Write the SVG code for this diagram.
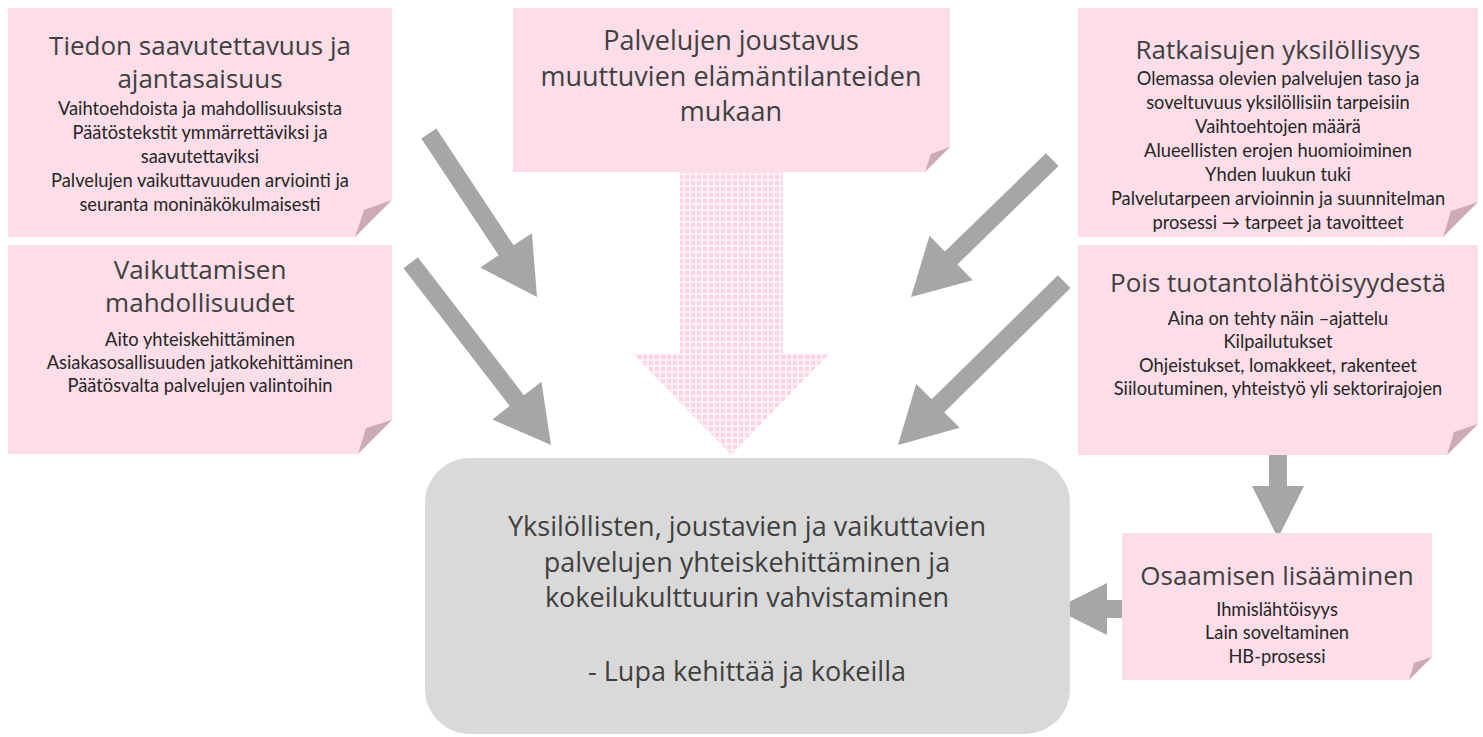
<svg xmlns="http://www.w3.org/2000/svg" width="1483" height="737" viewBox="0 0 1483 737">
<defs>
<pattern id="dots" width="6" height="6" patternUnits="userSpaceOnUse">
<rect width="6" height="6" fill="#fff2f7"/>
<rect x="1" y="1" width="4" height="4" fill="#fbd3e2"/>
</pattern>
</defs>
<style>
.note{fill:#fcdde8}
.fold{fill:#cbabb8}
.title{font-family:"Open Sans","DejaVu Sans",sans-serif;font-size:26px;fill:#404040;text-anchor:middle}
.ctext{font-family:"Open Sans","DejaVu Sans",sans-serif;font-size:27px;fill:#404040;text-anchor:middle}
.body{font-family:Lato,"Liberation Sans",sans-serif;font-size:18.3px;fill:#262626;text-anchor:middle}
.arrow{fill:#a6a6a6}
.center{fill:#d9d9d9}
</style>
<rect width="1483" height="737" fill="#ffffff"/>

<g id="connectors">
<polygon points="680,172 783,172 783,353 830,353 731,455 632,353 680,353" fill="url(#dots)"/>
<path class="arrow" transform="translate(537,297) rotate(56.5)" d="M0,0 L-56,-31 L-56,-9 L-196,-9 L-196,9 L-56,9 L-56,31 Z"/>
<path class="arrow" transform="translate(551,445) rotate(52.4)" d="M0,0 L-56,-31 L-56,-9 L-230,-9 L-230,9 L-56,9 L-56,31 Z"/>
<path class="arrow" transform="translate(911,297) rotate(135.8)" d="M0,0 L-56,-31 L-56,-9 L-197,-9 L-197,9 L-56,9 L-56,31 Z"/>
<path class="arrow" transform="translate(898,445) rotate(135.5)" d="M0,0 L-56,-31 L-56,-9 L-233,-9 L-233,9 L-56,9 L-56,31 Z"/>
<path class="arrow" transform="translate(1278,538) rotate(90)" d="M0,0 L-52,-26 L-52,-9 L-83,-9 L-83,9 L-52,9 L-52,26 Z"/>
<path class="arrow" transform="translate(1055,609) rotate(180)" d="M0,0 L-52,-26 L-52,-9 L-67,-9 L-67,9 L-52,9 L-52,26 Z"/>
</g>

<g id="note-tiedon">
<path class="note" d="M8,8 H392 V200 L355,237 H8 Z"/>
<polygon class="fold" points="392,200 364,210 355,237"/>
<text class="title" x="200" y="55">Tiedon saavutettavuus ja</text>
<text class="title" x="200" y="88">ajantasaisuus</text>
<text class="body" x="200" y="115">Vaihtoehdoista ja mahdollisuuksista</text>
<text class="body" x="200" y="139">Päätöstekstit ymmärrettäviksi ja</text>
<text class="body" x="200" y="163">saavutettaviksi</text>
<text class="body" x="200" y="187">Palvelujen vaikuttavuuden arviointi ja</text>
<text class="body" x="200" y="211">seuranta moninäkökulmaisesti</text>
</g>

<g id="note-joustavuus">
<path class="note" d="M513,8 H950 V147 L925,172 H513 Z"/>
<polygon class="fold" points="950,147 931,154 925,172"/>
<text class="ctext" x="731" y="50">Palvelujen joustavus</text>
<text class="ctext" x="731" y="86">muuttuvien elämäntilanteiden</text>
<text class="ctext" x="731" y="121">mukaan</text>
</g>

<g id="note-ratkaisujen">
<path class="note" d="M1078,8 H1478 V202 L1443,237 H1078 Z"/>
<polygon class="fold" points="1478,202 1451,211 1443,237"/>
<text class="title" x="1278" y="59">Ratkaisujen yksilöllisyys</text>
<text class="body" x="1278" y="85">Olemassa olevien palvelujen taso ja</text>
<text class="body" x="1278" y="109">soveltuvuus yksilöllisiin tarpeisiin</text>
<text class="body" x="1278" y="133">Vaihtoehtojen määrä</text>
<text class="body" x="1278" y="157">Alueellisten erojen huomioiminen</text>
<text class="body" x="1278" y="181">Yhden luukun tuki</text>
<text class="body" x="1278" y="205">Palvelutarpeen arvioinnin ja suunnitelman</text>
<text class="body" x="1278" y="229">prosessi → tarpeet ja tavoitteet</text>
</g>

<g id="note-vaikuttamisen">
<path class="note" d="M8,245 H392 V420 L358,454 H8 Z"/>
<polygon class="fold" points="392,420 366,428 358,454"/>
<text class="title" x="200" y="279">Vaikuttamisen</text>
<text class="title" x="200" y="312">mahdollisuudet</text>
<text class="body" x="200" y="346">Aito yhteiskehittäminen</text>
<text class="body" x="200" y="369">Asiakasosallisuuden jatkokehittäminen</text>
<text class="body" x="200" y="392">Päätösvalta palvelujen valintoihin</text>
</g>

<g id="note-pois">
<path class="note" d="M1078,245 H1478 V424 L1447,455 H1078 Z"/>
<polygon class="fold" points="1478,424 1454,432 1447,455"/>
<text class="title" x="1278" y="292">Pois tuotantolähtöisyydestä</text>
<text class="body" x="1278" y="325">Aina on tehty näin –ajattelu</text>
<text class="body" x="1278" y="348">Kilpailutukset</text>
<text class="body" x="1278" y="372">Ohjeistukset, lomakkeet, rakenteet</text>
<text class="body" x="1278" y="395">Siiloutuminen, yhteistyö yli sektorirajojen</text>
</g>

<g id="note-osaamisen">
<path class="note" d="M1122,533 H1432 V657 L1409,680 H1122 Z"/>
<polygon class="fold" points="1432,657 1414,663 1409,680"/>
<text class="title" x="1277" y="585">Osaamisen lisääminen</text>
<text class="body" x="1277" y="616">Ihmislähtöisyys</text>
<text class="body" x="1277" y="639">Lain soveltaminen</text>
<text class="body" x="1277" y="663">HB-prosessi</text>
</g>

<g id="center-box">
<rect class="center" x="425" y="458" width="645" height="276" rx="45" ry="45"/>
<text class="ctext" x="747" y="536">Yksilöllisten, joustavien ja vaikuttavien</text>
<text class="ctext" x="747" y="572">palvelujen yhteiskehittäminen  ja</text>
<text class="ctext" x="747" y="607">kokeilukulttuurin vahvistaminen</text>
<text class="ctext" x="747" y="681">- Lupa kehittää ja kokeilla</text>
</g>
</svg>
